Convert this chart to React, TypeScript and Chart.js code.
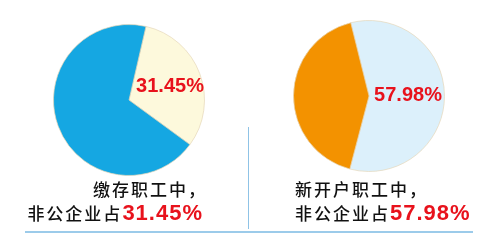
import React, { useEffect, useRef } from "react";
import { Chart, registerables } from "chart.js";

Chart.register(...registerables);

// Share of non-public enterprises among contributing employees
const contribLabels = ["非公企业", "其他"];
const contribValues = [31.45, 68.55];
const contribColors = ["#fdf9dc", "#15a7e2"];

// Share of non-public enterprises among newly opened accounts
const newLabels = ["非公企业", "其他"];
const newValues = [57.98, 42.02];
const newColors = ["#dcf0fb", "#f39200"];

const RED = "#e8121c";
const NUM_FONT = '"Liberation Sans", Arial, sans-serif';
const CJK_FONT = '"Noto Sans CJK SC", "Noto Sans", sans-serif';

// Draws the percentage of the first slice inside the pie
const pieLabelPlugin = {
  id: "pieLabel",
  afterDatasetsDraw(chart: any, _args: any, opts: any) {
    const arc = chart.getDatasetMeta(0).data[0];
    if (!arc || !opts || !opts.text) return;
    const { ctx } = chart;
    ctx.save();
    ctx.fillStyle = RED;
    ctx.font = `bold 20px ${NUM_FONT}`;
    ctx.textAlign = "center";
    ctx.textBaseline = "middle";
    ctx.fillText(opts.text, arc.x + opts.dx, arc.y + opts.dy);
    ctx.restore();
  },
};

function Pie(props: {
  labels: string[];
  values: number[];
  colors: string[];
  rotation: number;
  text: string;
  dx: number;
  dy: number;
  style: React.CSSProperties;
}) {
  const ref = useRef<HTMLCanvasElement | null>(null);
  useEffect(() => {
    if (!ref.current) return;
    const chart = new Chart(ref.current, {
      type: "pie",
      data: {
        labels: props.labels,
        datasets: [
          {
            data: props.values,
            backgroundColor: props.colors,
            borderColor: "rgba(230,215,185,0.7)",
            borderWidth: 1,
          },
        ],
      },
      options: {
        animation: false,
        responsive: false,
        rotation: props.rotation,
        layout: { padding: 4 },
        plugins: {
          legend: { display: false },
          tooltip: { enabled: false },
          pieLabel: { text: props.text, dx: props.dx, dy: props.dy },
        } as any,
      },
      plugins: [pieLabelPlugin],
    });
    return () => chart.destroy();
  }, []);
  return (
    <canvas
      ref={ref}
      width={160}
      height={160}
      style={{ position: "absolute", width: 160, height: 160, ...props.style }}
    />
  );
}

const lineStyle: React.CSSProperties = {
  position: "absolute",
  fontFamily: CJK_FONT,
  fontSize: 17,
  fontWeight: 500,
  color: "#111",
  letterSpacing: 2,
  whiteSpace: "nowrap",
  lineHeight: "20px",
};

const numStyle: React.CSSProperties = {
  fontFamily: NUM_FONT,
  fontWeight: "bold",
  fontSize: 22,
  color: RED,
  letterSpacing: 1,
};

export default function App() {
  return (
    <div
      style={{
        position: "absolute",
        left: 0,
        top: 0,
        width: 500,
        height: 244,
        background: "#ffffff",
        overflow: "hidden",
      }}
    >
      <Pie
        labels={contribLabels}
        values={contribValues}
        colors={contribColors}
        rotation={13}
        text={`${contribValues[0].toFixed(2)}%`}
        dx={41}
        dy={-14}
        style={{ left: 49, top: 20 }}
      />
      <Pie
        labels={newLabels}
        values={newValues}
        colors={newColors}
        rotation={-14}
        text={`${newValues[0].toFixed(2)}%`}
        dx={39}
        dy={-1}
        style={{ left: 289, top: 16 }}
      />

      <div
        style={{
          position: "absolute",
          left: 248,
          top: 127,
          width: 1,
          height: 102,
          background: "#8fc3e6",
        }}
      />
      <div
        style={{
          position: "absolute",
          left: 25,
          top: 231,
          width: 448,
          height: 2,
          background: "#9ccbea",
        }}
      />

      <div style={{ ...lineStyle, left: 93, top: 179 }}>缴存职工中，</div>
      <div style={{ ...lineStyle, right: 297, top: 203 }}>
        非公企业占<span style={numStyle}>{contribValues[0].toFixed(2)}%</span>
      </div>

      <div style={{ ...lineStyle, left: 295, top: 179 }}>新开户职工中，</div>
      <div style={{ ...lineStyle, left: 295, top: 203 }}>
        非公企业占<span style={numStyle}>{newValues[0].toFixed(2)}%</span>
      </div>
    </div>
  );
}
